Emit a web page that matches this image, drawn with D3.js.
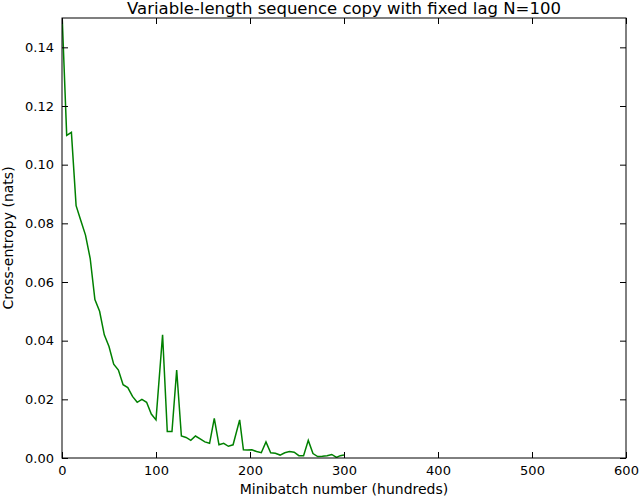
<!DOCTYPE html>
<html><head><meta charset="utf-8">
<script src="https://cdn.jsdelivr.net/npm/d3@7"></script>
<style>body{margin:0;background:#fff}text{font-family:"DejaVu Sans",sans-serif}</style>
</head><body><svg id="c" width="640" height="500"></svg>
<script>
const xs = [0,5,10,15,20,25,30,35,40,45,50,55,60,65,70,75,80,85,90,95,100,107,112,117,122,127,132,137,142,147,152,157,162,167,172,177,182,189,193,197,202,207,212,217,222,227,232,237,242,247,252,257,262,267,272,277,282,287,292,296,300];
const ys = [0.152,0.110,0.111,0.086,0.081,0.076,0.068,0.054,0.050,0.042,0.038,0.032,0.030,0.025,0.024,0.021,0.019,0.020,0.019,0.015,0.013,0.042,0.009,0.009,0.030,0.0075,0.007,0.006,0.0075,0.0065,0.0055,0.005,0.0135,0.0045,0.005,0.004,0.0045,0.013,0.0028,0.0027,0.0028,0.0022,0.0018,0.0055,0.0018,0.0016,0.0010,0.0018,0.0022,0.0020,0.0008,0.0008,0.0060,0.0015,0.0005,0.0006,0.0008,0.0012,0.0002,0.0008,0.0010];
const xTicks = [0,100,200,300,400,500,600];
const yTicks = [0,0.02,0.04,0.06,0.08,0.10,0.12,0.14];
const L=62,R=626,T=18,B=458;
const svg=d3.select("#c");
const x=d3.scaleLinear().domain([0,600]).range([L,R]);
const y=d3.scaleLinear().domain([0,0.15]).range([B,T]);
svg.append("clipPath").attr("id","cp").append("rect").attr("x",L).attr("y",T).attr("width",R-L).attr("height",B-T);
svg.append("path").datum(xs.map((v,i)=>[v,ys[i]])).attr("clip-path","url(#cp)")
 .attr("d",d3.line().x(d=>x(d[0])).y(d=>y(d[1]))).attr("fill","none").attr("stroke","#008000").attr("stroke-width",1.5);
const fmtY=d3.format(".2f");
function ax(g,tf){g.call(tf);g.select(".domain").remove();g.selectAll("text").attr("font-size",13).attr("fill","#000");g.selectAll("line").attr("stroke","#000");}
svg.append("g").attr("transform",`translate(0,${B})`).call(g=>ax(g,d3.axisBottom(x).tickValues(xTicks).tickSize(-6).tickPadding(8)));
svg.append("g").attr("transform",`translate(0,${T})`).call(g=>ax(g,d3.axisTop(x).tickValues(xTicks).tickSize(-6).tickFormat("")));
svg.append("g").attr("transform",`translate(${L},0)`).call(g=>ax(g,d3.axisLeft(y).tickValues(yTicks).tickSize(-6).tickPadding(8).tickFormat(fmtY)));
svg.append("g").attr("transform",`translate(${R},0)`).call(g=>ax(g,d3.axisRight(y).tickValues(yTicks).tickSize(-6).tickFormat("")));
svg.append("rect").attr("x",L).attr("y",T).attr("width",R-L).attr("height",B-T).attr("fill","none").attr("stroke","#000");
svg.append("text").attr("x",(L+R)/2).attr("y",14).attr("text-anchor","middle").attr("font-size",16.5).text("Variable-length sequence copy with fixed lag N=100");
svg.append("text").attr("x",(L+R)/2).attr("y",494).attr("text-anchor","middle").attr("font-size",14).text("Minibatch number (hundreds)");
svg.append("text").attr("transform",`translate(13,${(T+B)/2}) rotate(-90)`).attr("text-anchor","middle").attr("font-size",14).text("Cross-entropy (nats)");
</script></body></html>
